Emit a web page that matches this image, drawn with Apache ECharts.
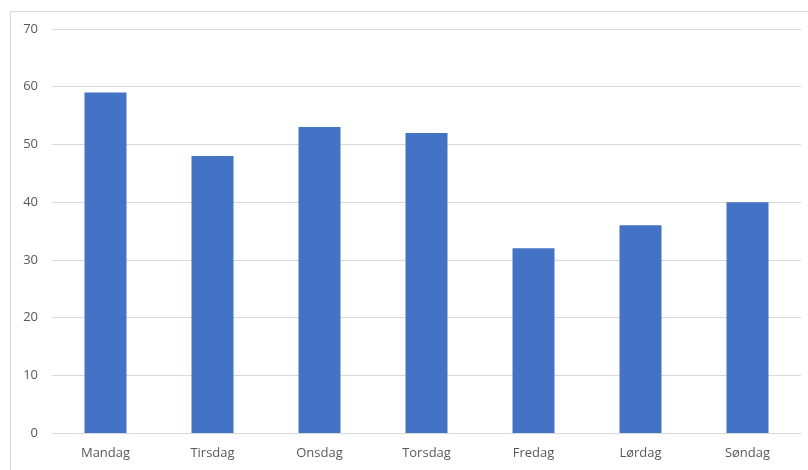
<!DOCTYPE html>
<html>
<head>
<meta charset="utf-8">
<script src="https://cdn.jsdelivr.net/npm/echarts@6/dist/echarts.min.js"></script>
<style>
  html, body { margin: 0; padding: 0; background: #fff; }
  #chart { width: 808px; height: 470px; }
</style>
</head>
<body>
<div id="chart"></div>
<script>
var days = ['Mandag', 'Tirsdag', 'Onsdag', 'Torsdag', 'Fredag', 'Lørdag', 'Søndag']
var values = [59, 48, 53, 52, 32, 36, 40]

var chart = echarts.init(document.getElementById('chart'))
var option = {
  animation: false,
  textStyle: { fontFamily: 'Open Sans', color: '#595959' },
  graphic: [
    {
      type: 'rect',
      left: 8, top: 9,
      shape: { width: 820, height: 480 },
      style: { fill: 'none', stroke: '#d9d9d9', lineWidth: 1 },
      silent: true
    }
  ],
  grid: { left: 52, right: 7, top: 29, bottom: 37 },
  xAxis: {
    type: 'category',
    data: days,
    axisTick: { show: false },
    axisLine: { lineStyle: { color: '#d9d9d9' } },
    axisLabel: { color: '#595959', fontSize: 13, margin: 14 }
  },
  yAxis: {
    type: 'value',
    min: 0, max: 70, interval: 10,
    axisLine: { show: false },
    axisTick: { show: false },
    splitLine: { lineStyle: { color: '#d9d9d9' } },
    axisLabel: { color: '#595959', fontSize: 13, margin: 14 }
  },
  series: [
    {
      type: 'bar',
      data: values,
      barWidth: 42,
      itemStyle: { color: '#4472c4' }
    }
  ]
}
chart.setOption(option)
</script>
</body>
</html>
